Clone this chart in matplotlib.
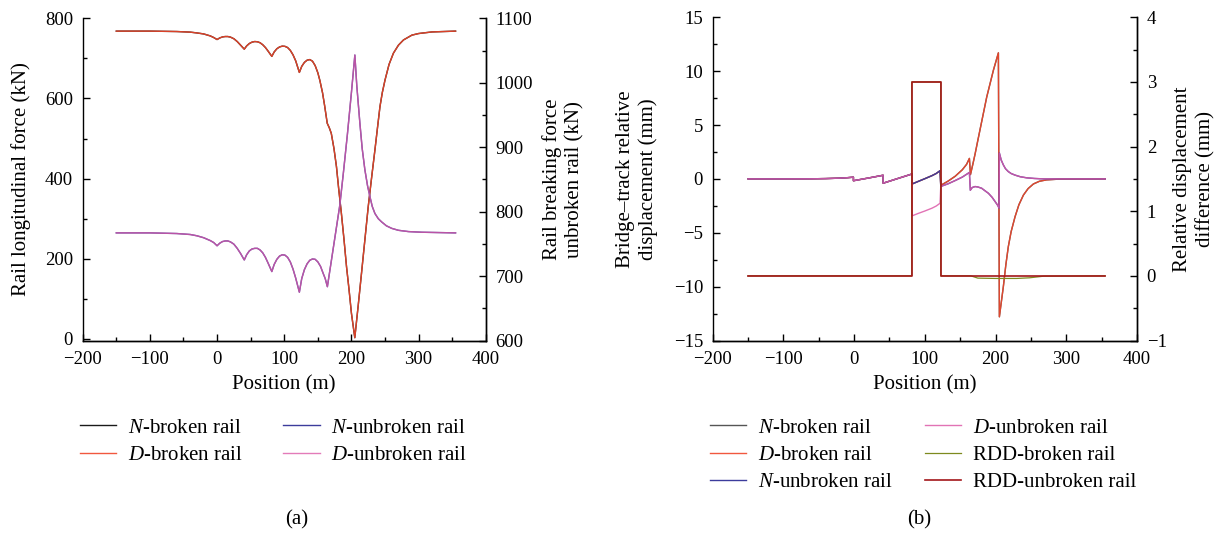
import matplotlib
matplotlib.use("Agg")
import matplotlib.pyplot as plt
from matplotlib.ticker import MultipleLocator

plt.rcParams['font.family'] = ['Liberation Serif', 'DejaVu Serif']
plt.rcParams['mathtext.fontset'] = 'custom'
plt.rcParams['mathtext.rm'] = 'Liberation Serif'
plt.rcParams['mathtext.it'] = 'Liberation Serif:italic'

# ---------------- panel (a): rail longitudinal force ----------------
pos_a_broken = [-150, -100, -60, -40, -30, -20, -10, -5, 0,
                4, 8, 12, 16, 20, 25, 30, 35, 40.5,
                44, 48, 52, 56, 60, 64, 68, 72, 76, 81.5,
                85, 89, 93, 97, 101, 105, 109, 113, 117, 122.5,
                126, 130, 134, 138, 142, 146, 150, 153, 157, 160, 164,
                167, 170, 174, 177.7, 181, 185, 189, 192.7, 196.5, 200, 205,
                210, 215, 220, 225, 230, 235, 239, 242.5, 246, 250, 256, 262.5,
                270, 277.5, 290, 300, 320, 355]
force_d_broken = [768, 768, 767, 765.5, 763.5, 761, 756, 752, 747,
                  751, 753.5, 754.5, 754.5, 753, 749, 742, 733, 723,
                  731, 737, 740.5, 742, 741.5, 739, 734, 727, 718, 705,
                  716, 724, 728.5, 730.5, 730, 727, 720, 709, 694, 665,
                  680, 690, 695.5, 697, 693, 682, 664, 645, 614, 583, 538,
                  527, 513, 475, 430, 375, 314, 247, 180, 122, 64, 3,
                  82, 164, 247, 330, 402, 472, 530, 580, 615, 646, 685, 713,
                  733, 746, 758, 762, 766, 768]
force_n_broken = force_d_broken  # N and D curves coincide

pos_a_unbroken = [-150, -100, -60, -40, -30, -20, -10, -5, 0,
                  4, 8, 12, 16, 20, 25, 30, 35, 40.5,
                  44, 48, 52, 56, 60, 64, 68, 72, 76, 81.5,
                  85, 89, 93, 97, 101, 105, 109, 113, 117, 122.5,
                  126, 130, 134, 138, 142, 146, 150, 154, 158, 161, 164.2,
                  170, 176, 182.7, 188, 194, 200, 205.1,
                  208, 212.6, 216, 220, 224, 227.6, 231, 235, 240, 245, 252,
                  260, 270, 285, 305, 355]
force_d_unbroken = [767, 767, 766, 764.5, 762.5, 759.5, 755, 752, 747,
                    751, 753.5, 754.5, 754.5, 753, 749.5, 743, 735, 725,
                    733, 739, 742, 743, 743, 740.5, 736, 729, 720, 707,
                    718, 726, 731, 733, 732.5, 729, 722, 711, 697, 675,
                    696, 710, 719, 724.5, 726.5, 726, 722, 715, 704, 696, 683.5,
                    723, 764, 810, 860, 920, 985, 1043,
                    995, 937, 898, 865, 840, 823, 808, 797, 789, 784, 778,
                    774, 771, 769, 768, 767]
force_n_unbroken = force_d_unbroken

# ---------------- panel (b): bridge-track relative displacement ----------------
pos_b_unbroken = [-150, -100, -60, -40, -20, -10, -1, -1,
                  20, 41, 41, 60, 82, 82,
                  90, 100, 110, 116, 121.5, 122.5,
                  133, 143, 153, 163, 164.3,
                  167, 171, 175, 180.4, 185, 189.8, 195, 199.3, 203, 205,
                  205.4, 208, 211, 214, 218, 222, 227.6, 235, 244, 255, 268, 300, 355]
disp_d_unbroken = [0, 0, 0.01, 0.03, 0.07, 0.11, 0.16, -0.17,
                   0.08, 0.34, -0.4, 0.0, 0.46, -3.43,
                   -3.22, -2.98, -2.72, -2.52, -2.26, -0.7,
                   -0.45, -0.15, 0.17, 0.6, -1.05,
                   -0.8, -0.71, -0.75, -0.87, -1.1, -1.33, -1.7, -2.1, -2.45, -2.72,
                   2.4, 1.75, 1.3, 0.95, 0.68, 0.5, 0.35, 0.2, 0.1, 0.04, 0.0, 0.0, 0.0]
disp_n_unbroken = [0, 0, 0.01, 0.03, 0.07, 0.11, 0.16, -0.17,
                   0.08, 0.34, -0.4, 0.0, 0.46, -0.47,
                   -0.25, 0.02, 0.3, 0.5, 0.76, -0.7,
                   -0.45, -0.15, 0.17, 0.6, -1.05,
                   -0.8, -0.71, -0.75, -0.87, -1.1, -1.33, -1.7, -2.1, -2.45, -2.72,
                   2.4, 1.75, 1.3, 0.95, 0.68, 0.5, 0.35, 0.2, 0.1, 0.04, 0.0, 0.0, 0.0]

pos_b_broken = [-150, -100, -60, -40, -20, -10, -1, -1,
                20, 41, 41, 60, 82, 82,
                90, 100, 110, 116, 121.5, 122.5,
                133, 143, 153, 159, 163, 164.5,
                168, 171, 175, 180, 187.5, 197, 204,
                205.4, 208, 211, 214.5, 218, 222, 227.6, 233, 239.4, 246, 253.5,
                262, 272, 290, 355]
disp_d_broken = [0, 0, 0.01, 0.03, 0.07, 0.11, 0.16, -0.17,
                 0.08, 0.34, -0.4, 0.0, 0.46, -0.47,
                 -0.25, 0.02, 0.3, 0.5, 0.76, -0.6,
                 -0.2, 0.25, 0.85, 1.35, 1.9, 0.4,
                 1.4, 2.3, 3.6, 5.2, 7.6, 10.1, 11.7,
                 -12.8, -11.5, -10.0, -8.0, -6.3, -4.9, -3.5, -2.4, -1.5, -0.9, -0.47,
                 -0.22, -0.09, -0.02, 0.0]
disp_n_broken = disp_d_broken

pos_rdd_unbroken = [-150, 81.5, 81.5, 122.5, 122.5, 355]
rdd_unbroken = [0, 0, 3, 3, 0, 0]
pos_rdd_broken = [-150, 81.5, 81.5, 122.5, 122.5, 165, 175, 200, 230, 248, 268, 355]
rdd_broken = [0, 0, 3, 3, 0, 0, -0.035, -0.04, -0.04, -0.03, -0.005, 0]

C_NB_A = '#1a1a1a'
C_NB_B = '#555555'
C_DB = '#f0462a'
C_NU = '#3c3c9c'
C_DU = '#dc5aa8'
C_RB = '#7d8a1e'
C_RU = '#a3161a'

W, H = 1221, 533
fig = plt.figure(figsize=(W / 100, H / 100), dpi=100)

FS_TICK = 13.5
FS_LAB = 15
FS_LEG = 15


def px(x0, y0, x1, y1):
    return [x0 / W, 1 - y1 / H, (x1 - x0) / W, (y1 - y0) / H]


def style(ax, twin):
    ax.spines['top'].set_visible(False)
    twin.spines['top'].set_visible(False)
    twin.spines['left'].set_visible(False)
    for a in (ax, twin):
        for s in a.spines.values():
            s.set_linewidth(1.0)
        a.tick_params(which='both', direction='in', labelsize=FS_TICK, width=1.0)
        a.tick_params(which='major', length=5)
        a.tick_params(which='minor', length=3)
        a.tick_params(axis='y', pad=7)
    ax.tick_params(axis='x', pad=7.5)
    ax.tick_params(which='both', top=False, right=False)
    twin.tick_params(which='both', top=False, left=False, bottom=False)
    ax.set_xlim(-200, 400)
    ax.xaxis.set_major_locator(MultipleLocator(100))
    ax.xaxis.set_minor_locator(MultipleLocator(50))
    ax.set_xlabel('Position (m)', fontsize=FS_LAB)
    ax.xaxis.set_label_coords(0.5, -44.5 / 322.5)
    ax.xaxis.label.set_va('center')


# panel (a)
ax1 = fig.add_axes(px(82.7, 18.3, 485.8, 340.5))
tw1 = ax1.twinx()
l1, = ax1.plot(pos_a_broken, force_n_broken, color=C_NB_A, lw=1.0, label='$N$-broken rail')
l2, = ax1.plot(pos_a_broken, force_d_broken, color=C_DB, lw=1.0, alpha=0.9, label='$D$-broken rail')
l3, = tw1.plot(pos_a_unbroken, force_n_unbroken, color=C_NU, lw=1.0, label='$N$-unbroken rail')
l4, = tw1.plot(pos_a_unbroken, force_d_unbroken, color=C_DU, lw=1.0, alpha=0.8, label='$D$-unbroken rail')
style(ax1, tw1)
ax1.set_ylim(-4, 800)
ax1.yaxis.set_major_locator(MultipleLocator(200))
ax1.yaxis.set_minor_locator(MultipleLocator(100))
tw1.set_ylim(600, 1100)
tw1.yaxis.set_major_locator(MultipleLocator(100))
tw1.yaxis.set_minor_locator(MultipleLocator(50))
ax1.set_ylabel('Rail longitudinal force (kN)', fontsize=FS_LAB)
ax1.yaxis.set_label_coords((21 - 82.7) / 403.1, 0.5)
ax1.yaxis.label.set_va('center')
tw1.set_ylabel('Rail breaking force\nunbroken rail (kN)', fontsize=FS_LAB, linespacing=1.25)
tw1.yaxis.set_label_coords((563 - 82.7) / 403.1, 0.5)
tw1.yaxis.label.set_va('center')
ax1.legend(handles=[l1, l2, l3, l4], ncol=2, loc='upper left', frameon=False,
           bbox_to_anchor=(80 / W, 1 - 418 / H), bbox_transform=fig.transFigure,
           fontsize=FS_LEG, handlelength=1.75, handletextpad=0.55,
           columnspacing=1.95, labelspacing=0.37, borderaxespad=0, borderpad=0)

# panel (b)
ax2 = fig.add_axes(px(712.7, 17.3, 1137, 340.5))
tw2 = ax2.twinx()
m1, = ax2.plot(pos_b_broken, disp_n_broken, color=C_NB_B, lw=1.0, label='$N$-broken rail')
m2, = ax2.plot(pos_b_broken, disp_d_broken, color=C_DB, lw=1.0, alpha=0.9, label='$D$-broken rail')
m3, = ax2.plot(pos_b_unbroken, disp_n_unbroken, color=C_NU, lw=1.0, label='$N$-unbroken rail')
m4, = ax2.plot(pos_b_unbroken, disp_d_unbroken, color=C_DU, lw=1.0, alpha=0.85, label='$D$-unbroken rail')
m5, = tw2.plot(pos_rdd_broken, rdd_broken, color=C_RB, lw=0.9, label='RDD-broken rail')
m6, = tw2.plot(pos_rdd_unbroken, rdd_unbroken, color=C_RU, lw=1.2, label='RDD-unbroken rail')
style(ax2, tw2)
ax2.set_ylim(-15, 15)
ax2.yaxis.set_major_locator(MultipleLocator(5))
ax2.yaxis.set_minor_locator(MultipleLocator(2.5))
tw2.set_ylim(-1, 4)
tw2.yaxis.set_major_locator(MultipleLocator(1))
tw2.yaxis.set_minor_locator(MultipleLocator(0.5))
ax2.set_ylabel('Bridge\u2013track relative\ndisplacement (mm)', fontsize=FS_LAB, linespacing=1.25)
ax2.yaxis.set_label_coords((637 - 712.7) / 424.3, 0.5)
ax2.yaxis.label.set_va('center')
tw2.set_ylabel('Relative displacement\ndifference (mm)', fontsize=FS_LAB, linespacing=1.25)
tw2.yaxis.set_label_coords((1194 - 712.7) / 424.3, 0.5)
tw2.yaxis.label.set_va('center')
ax2.legend(handles=[m1, m2, m3, m4, m5, m6], ncol=2, loc='upper left', frameon=False,
           bbox_to_anchor=(710 / W, 1 - 418 / H), bbox_transform=fig.transFigure,
           fontsize=FS_LEG, handlelength=1.75, handletextpad=0.55,
           columnspacing=1.55, labelspacing=0.37, borderaxespad=0, borderpad=0)

fig.text(297 / W, 1 - 520 / H, '(a)', ha='center', va='center', fontsize=FS_LAB)
fig.text(919 / W, 1 - 520 / H, '(b)', ha='center', va='center', fontsize=FS_LAB)

fig.savefig('out.png', dpi=100)
